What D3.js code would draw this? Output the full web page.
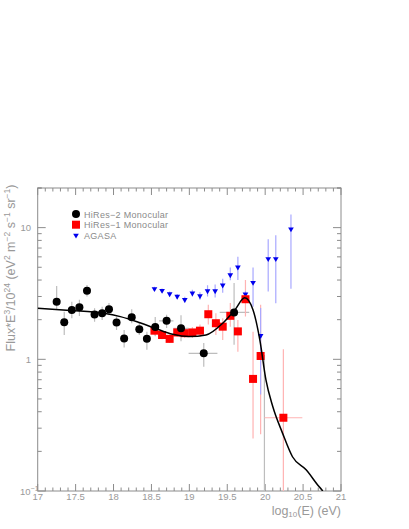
<!DOCTYPE html>
<html lang="en">
<head>
<meta charset="UTF-8">
<title>UHECR flux</title>
<script src="https://cdn.jsdelivr.net/npm/d3@7/dist/d3.min.js"></script>
<style>
  body { margin: 0; background: #fff; }
  svg { display: block; font-family: "Liberation Sans", Arial, sans-serif; }
</style>
</head>
<body>
<div id="chart"></div>
<script>
// HiRes-2 monocular: log10(E), flux, lower, upper, optional x range
const hires2LogE = [17.25, 17.35, 17.45, 17.55, 17.65, 17.75, 17.85, 17.94, 18.04, 18.14, 18.24, 18.34, 18.44, 18.55, 18.70, 18.89, 19.19, 19.59, 19.99];
const hires2Flux = [2.74, 1.91, 2.37, 2.49, 3.31, 2.19, 2.24, 2.40, 1.90, 1.44, 2.09, 1.69, 1.43, 1.76, 1.96, 1.72, 1.11, 2.27, 0.05];
const hires2Lo   = [2.37, 1.53, 2.05, 2.13, 3.00, 1.93, 1.99, 2.16, 1.67, 1.23, 1.88, 1.53, 1.18, 1.50, 1.73, 1.37, 0.88, 1.29, 0.01];
const hires2Hi   = [3.61, 2.30, 2.74, 2.83, 3.66, 2.44, 2.51, 2.68, 2.11, 1.67, 2.40, 1.88, 1.62, 2.10, 2.18, 2.16, 1.33, 3.80, 1.08];
const hires2XLo  = [null, null, null, null, null, null, null, null, null, null, null, null, null, null, 18.60, 18.79, 18.99, 19.40, null];
const hires2XHi  = [null, null, null, null, null, null, null, null, null, null, null, null, null, null, 18.79, 18.99, 19.37, 19.79, null];

// HiRes-1 monocular
const hires1LogE = [18.54, 18.64, 18.74, 18.84, 18.94, 19.04, 19.14, 19.25, 19.35, 19.44, 19.54, 19.64, 19.74, 19.84, 19.94, 20.24];
const hires1Flux = [1.65, 1.53, 1.43, 1.60, 1.58, 1.60, 1.65, 2.20, 1.88, 1.77, 2.14, 1.63, 2.86, 0.71, 1.06, 0.36];
const hires1Lo   = [1.52, 1.42, 1.33, 1.48, 1.45, 1.45, 1.48, 1.84, 1.53, 1.40, 1.77, 1.14, 2.11, 0.25, 0.27, 0.05];
const hires1Hi   = [1.79, 1.65, 1.54, 1.73, 1.72, 1.76, 1.84, 2.60, 2.24, 2.05, 2.68, 1.99, 4.00, 1.62, 2.60, 1.19];
const hires1XLo  = [null, null, null, null, null, null, null, null, null, null, null, null, null, null, null, 19.99];
const hires1XHi  = [null, null, null, null, null, null, null, null, null, null, null, null, null, null, null, 20.49];

// AGASA
const agasaLogE = [18.54, 18.64, 18.74, 18.84, 18.94, 19.04, 19.14, 19.24, 19.34, 19.44, 19.54, 19.64, 19.74, 19.84, 19.94, 20.04, 20.14, 20.34];
const agasaFlux = [3.43, 3.33, 3.14, 3.00, 2.84, 3.18, 3.03, 3.31, 3.31, 3.66, 4.38, 5.01, 3.12, 3.83, 1.51, 5.80, 5.80, 9.75];
const agasaLo   = [3.30, 3.20, 3.00, 2.87, 2.70, 3.00, 2.84, 3.00, 2.95, 3.20, 3.98, 4.00, 2.95, 2.51, 0.54, 3.27, 2.67, 3.43];
const agasaHi   = [3.55, 3.45, 3.28, 3.14, 2.98, 3.37, 3.23, 3.65, 3.70, 4.10, 4.98, 6.00, 3.30, 4.99, 2.45, 8.15, 8.75, 12.6];

// model curve
const curveLogE = [17.0, 17.43, 17.87, 18.09, 18.31, 18.55, 18.78, 19.00, 19.22, 19.44, 19.60, 19.73, 19.84, 19.93, 20.01, 20.10, 20.23, 20.36, 20.54, 20.71, 20.76];
const curveFlux = [2.44, 2.35, 2.24, 2.11, 1.93, 1.72, 1.55, 1.49, 1.53, 1.88, 2.37, 2.93, 2.37, 1.40, 0.697, 0.438, 0.274, 0.182, 0.145, 0.108, 0.100];

const xTickLabels = ["17", "17.5", "18", "18.5", "19", "19.5", "20", "20.5", "21"];
const legendLabels = ["HiRes\u22122 Monocular", "HiRes\u22121 Monocular", "AGASA"];

const width = 409, height = 529;
const x = d3.scaleLinear().domain([17, 21]).range([37.7, 341]);
const y = d3.scaleLog().domain([0.1, 20]).range([491, 188]);

const svg = d3.select("#chart").append("svg")
    .attr("width", width)
    .attr("height", height);

svg.append("clipPath").attr("id", "plot")
  .append("rect")
    .attr("x", x(17)).attr("y", y(20))
    .attr("width", x(21) - x(17)).attr("height", y(0.1) - y(20));

const frameColor = "#8c8c8c", textColor = "#999";

// frame
svg.append("rect")
    .attr("x", x(17)).attr("y", y(20))
    .attr("width", x(21) - x(17)).attr("height", y(0.1) - y(20))
    .attr("fill", "none").attr("stroke", frameColor).attr("stroke-width", 1);

// x ticks, bottom and top, pointing inward
const xMinor = d3.range(170, 211).map(d => d / 10);
const tg = svg.append("g").attr("stroke", frameColor).attr("stroke-width", 1);
xMinor.forEach(v => {
  const major = Math.abs(v * 2 - Math.round(v * 2)) < 1e-6;
  const len = major ? 7 : 3.5;
  tg.append("line").attr("x1", x(v)).attr("x2", x(v)).attr("y1", y(0.1)).attr("y2", y(0.1) - len);
  tg.append("line").attr("x1", x(v)).attr("x2", x(v)).attr("y1", y(20)).attr("y2", y(20) + len);
});

// y ticks, left and right
const yTicks = [];
[0.1, 1, 10].forEach(dec => d3.range(1, 10).forEach(m => { if (dec * m <= 20) yTicks.push(dec * m); }));
yTicks.push(20);
yTicks.forEach(v => {
  const major = [0.1, 1, 10].includes(+v.toPrecision(3));
  const len = major ? 8 : 4;
  tg.append("line").attr("x1", x(17)).attr("x2", x(17) + len).attr("y1", y(v)).attr("y2", y(v));
  tg.append("line").attr("x1", x(21)).attr("x2", x(21) - len).attr("y1", y(v)).attr("y2", y(v));
});

// x tick labels
svg.append("g").selectAll("text")
  .data(xTickLabels).enter().append("text")
    .attr("x", d => x(+d))
    .attr("y", 500)
    .attr("text-anchor", "middle")
    .attr("font-size", "9.5px")
    .attr("fill", textColor)
    .text(d => d);

// y tick labels
const yl = svg.append("g").attr("fill", textColor).attr("font-size", "9.5px");
yl.append("text").attr("x", 31).attr("y", y(10) + 3.5).attr("text-anchor", "end").text("10");
yl.append("text").attr("x", 31).attr("y", y(1) + 3.5).attr("text-anchor", "end").text("1");
const ym = yl.append("text").attr("x", 20).attr("y", y(0.1) + 3.5);
ym.append("tspan").text("10");
ym.append("tspan").attr("dy", -4).attr("font-size", "7px").text("\u22121");

// x axis title
const xt = svg.append("text").attr("x", 341).attr("y", 515).attr("text-anchor", "end")
    .attr("font-size", "12.5px").attr("fill", textColor);
xt.append("tspan").text("log");
xt.append("tspan").attr("dy", 2).attr("font-size", "8px").text("10");
xt.append("tspan").attr("dy", -2).text("(E) (eV)");

// y axis title with superscripts
const yt = svg.append("text")
    .attr("transform", `translate(15, 268) rotate(-90)`)
    .attr("text-anchor", "middle")
    .attr("font-size", "12.5px")
    .attr("fill", textColor);
const yParts = [["Flux*E", 0], ["3", 1], ["/10", 0], ["24", 1], [" (eV", 0], ["2", 1], [" m", 0], ["\u22122", 1],
                [" s", 0], ["\u22121", 1], [" sr", 0], ["\u22121", 1], [")", 0]];
let prevSup = 0;
yParts.forEach(([t, s]) => {
  yt.append("tspan")
    .attr("dy", (s - prevSup) * -5)
    .attr("font-size", s ? "8.5px" : "12.5px")
    .text(t);
  prevSup = s;
});

const plot = svg.append("g").attr("clip-path", "url(#plot)");

// error bars
function errorBars(logE, flux, lo, hi, xlo, xhi, color) {
  const g = plot.append("g").attr("stroke", color).attr("stroke-width", 1.2);
  logE.forEach((e, i) => {
    g.append("line").attr("x1", x(e)).attr("x2", x(e)).attr("y1", y(lo[i])).attr("y2", y(hi[i]));
    if (xlo && xlo[i] != null) {
      g.append("line").attr("x1", x(xlo[i])).attr("x2", x(xhi[i])).attr("y1", y(flux[i])).attr("y2", y(flux[i]));
    }
  });
}
errorBars(hires2LogE, hires2Flux, hires2Lo, hires2Hi, hires2XLo, hires2XHi, "#bdbdbd");
errorBars(hires1LogE, hires1Flux, hires1Lo, hires1Hi, hires1XLo, hires1XHi, "#ffb3b3");
errorBars(agasaLogE, agasaFlux, agasaLo, agasaHi, null, null, "#a8a8ff");

const tri = d3.symbol().type(d3.symbolTriangle).size(14);

// markers
plot.append("g").selectAll("path")
  .data(agasaLogE.map((e, i) => [e, agasaFlux[i]])).enter().append("path")
    .attr("d", tri)
    .attr("transform", d => `translate(${x(d[0])},${y(d[1])}) rotate(180)`)
    .attr("fill", "#0000ee");

plot.append("g").selectAll("rect")
  .data(hires1LogE.map((e, i) => [e, hires1Flux[i]])).enter().append("rect")
    .attr("x", d => x(d[0]) - 4).attr("y", d => y(d[1]) - 4)
    .attr("width", 8).attr("height", 8)
    .attr("fill", "#ff0000");

plot.append("g").selectAll("circle")
  .data(hires2LogE.map((e, i) => [e, hires2Flux[i]])).enter().append("circle")
    .attr("cx", d => x(d[0])).attr("cy", d => y(d[1]))
    .attr("r", 4)
    .attr("fill", "#000");

// model curve
const line = d3.line()
    .x(d => x(d[0]))
    .y(d => y(d[1]))
    .curve(d3.curveMonotoneX);
plot.append("path")
    .datum(curveLogE.map((e, i) => [e, curveFlux[i]]))
    .attr("d", line)
    .attr("fill", "none")
    .attr("stroke", "#000")
    .attr("stroke-width", 1.5);

// legend
const lg = svg.append("g").attr("font-size", "9px").attr("fill", "#8a8a8a");
const ly = [214, 224.7, 235.3];
lg.append("circle").attr("cx", 76).attr("cy", ly[0]).attr("r", 4).attr("fill", "#000");
lg.append("rect").attr("x", 72).attr("y", ly[1] - 4).attr("width", 8).attr("height", 8).attr("fill", "#ff0000");
lg.append("path").attr("d", tri).attr("transform", `translate(76,${ly[2]}) rotate(180)`).attr("fill", "#0000ee");
legendLabels.forEach((t, i) => {
  lg.append("text").attr("x", 84).attr("y", ly[i] + 3.5).attr("letter-spacing", "0.3px").text(t);
});
</script>
</body>
</html>
